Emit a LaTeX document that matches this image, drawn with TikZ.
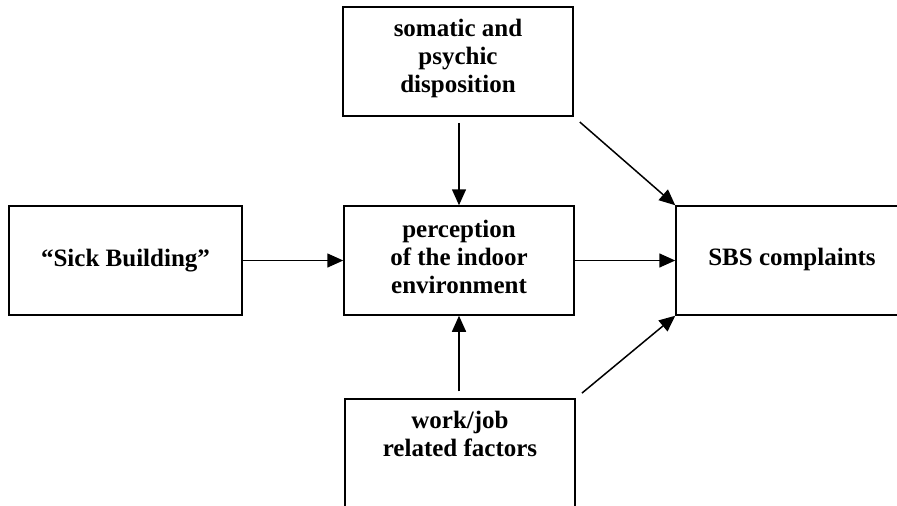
\documentclass[tikz,border=0pt]{standalone}
\usepackage{fontspec}
\setmainfont{Liberation Serif}
\usetikzlibrary{arrows.meta}
\begin{document}
\begin{tikzpicture}[x=1pt,y=-1pt,
  box/.style={draw=black, line width=1.5pt, rectangle, inner sep=0pt, minimum width=230pt, minimum height=109pt},
  txt/.style={font=\fontsize{25}{28}\selectfont\bfseries, align=center, inner sep=0pt},
  arr/.style={line width=1.5pt, -{Triangle[length=16pt,width=14pt]}}]
\useasboundingbox (0,0) rectangle (897,506);
\clip (0,0) rectangle (897,506);
\fill[white] (0,0) rectangle (897,506);
% boxes
\node[box] (top) at (458,61.5) {};
\node[box] (mid) at (459,260.5) {};
\node[box, minimum width=233pt] (left) at (125.5,260.5) {};
\node[box, minimum width=232pt] (right) at (792,260.5) {};
\node[box] (bot) at (460,453.5) {};
% texts
\node[txt] (toptxt) at (458,58) {somatic and\\psychic\\disposition};
\node[txt] (midtxt) at (459,257) {perception\\of the indoor\\environment};
\node[txt] (lefttxt) at (125.5,261) {“Sick Building”};
\node[txt] (righttxt) at (792,259) {SBS complaints};
\node[txt, anchor=north] (bottxt) at (460,411) {work/job\\related factors};
% arrows
\draw[arr] (left.east) -- (mid.west);
\draw[arr] (mid.east) -- (right.west);
\draw[arr, shorten <=6pt] (top.south -| mid.north) -- (mid.north);
\draw[arr, shorten <=7pt] (bot.north -| mid.south) -- (mid.south);
\draw[arr, shorten <=8pt] (top.south east) -- (right.north west);
\draw[arr, shorten <=8pt] (bot.north east) -- (right.south west);
\end{tikzpicture}
\end{document}
